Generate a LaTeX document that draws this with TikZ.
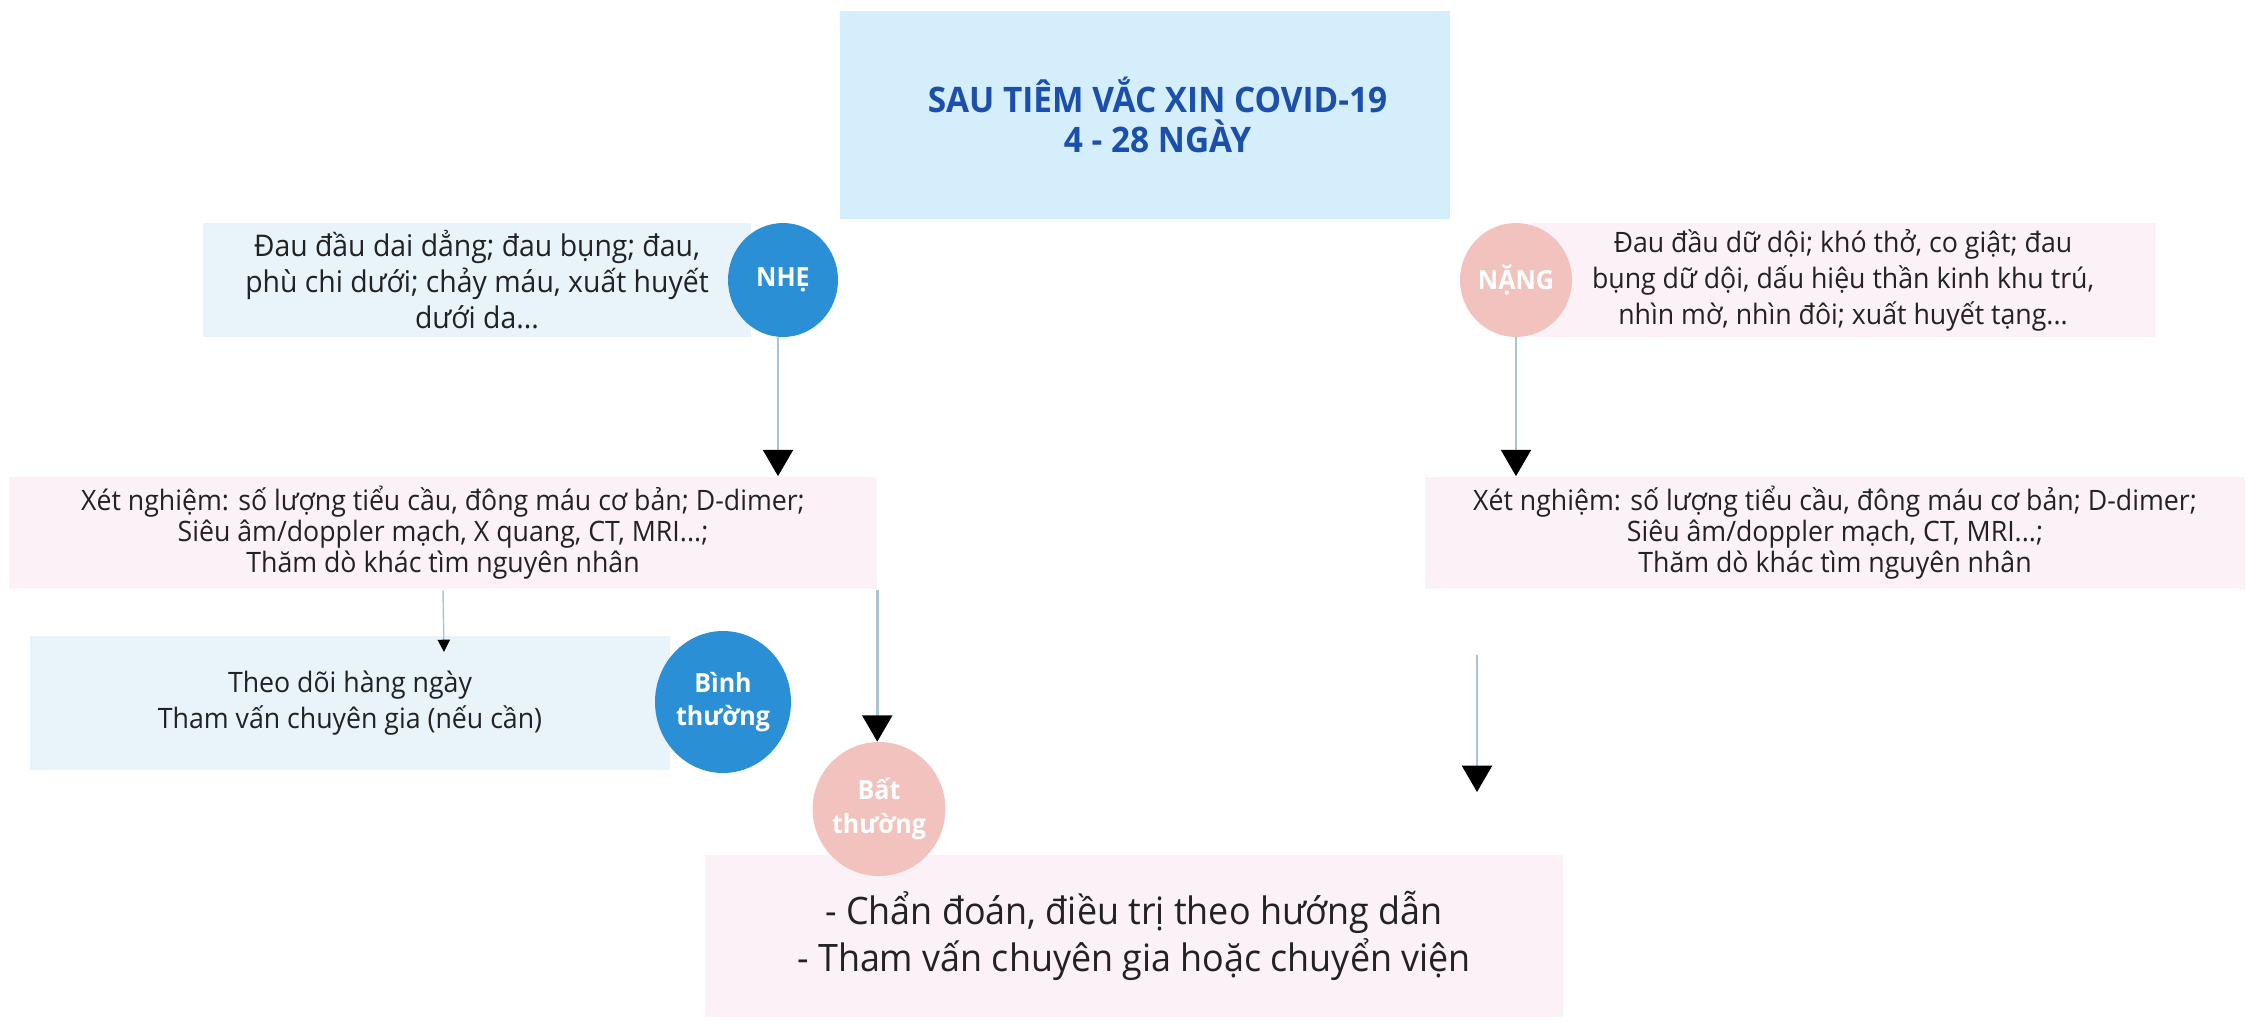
\documentclass[tikz,border=0pt]{standalone}
\usepackage{fontspec}
\setmainfont{Open Sans}[FakeStretch=0.95]
\usetikzlibrary{arrows.meta,shapes.geometric}
\definecolor{titlebg}{RGB}{212,238,252}
\definecolor{titlefg}{RGB}{27,79,170}
\definecolor{bluebg}{RGB}{232,243,250}
\definecolor{pinkbg}{RGB}{252,241,246}
\definecolor{cnhe}{RGB}{43,143,214}
\definecolor{cnang}{RGB}{241,194,190}
\definecolor{linegray}{RGB}{170,196,208}
\definecolor{textgray}{RGB}{34,34,34}
\tikzset{
    box/.style={rectangle, inner sep=0pt, align=center, text=textgray, font=\fontsize{16}{17.6}\selectfont},
    bluebox/.style={box, fill=bluebg},
    pinkbox/.style={box, fill=pinkbg},
    dot/.style={ellipse, inner sep=0pt, text=white, align=center, font=\bfseries\fontsize{15}{19}\selectfont},
    nhedot/.style={dot, fill=cnhe},
    nangdot/.style={dot, fill=cnang},
    flow/.style={-{Triangle[color=black,width=17pt,length=15pt]}, draw=linegray, line width=1.6pt},
    thinflow/.style={-{Triangle[color=black,width=7pt,length=7pt]}, draw=linegray, line width=0.8pt},
}
\begin{document}
\begin{tikzpicture}[x=0.02cm,y=-0.02cm]
\useasboundingbox (0,0) rectangle (2246,1022);
% top
\node[box, fill=titlebg, text=titlefg, minimum width=12.22cm, minimum height=4.18cm,
      font=\bfseries\fontsize{20}{23}\selectfont] (title) at (1145,115)
      {\hspace*{0.5cm}SAU TIÊM VẮC XIN COVID-19\\\hspace*{0.5cm}4 - 28 NGÀY};
% nhe branch
\node[bluebox, minimum width=10.98cm, minimum height=2.3cm, font=\fontsize{17}{20.5}\selectfont] (nhebox) at (477,280)
      {Đau đầu dai dẳng; đau bụng; đau,\\phù chi dưới; chảy máu, xuất huyết\\dưới da...};
\node[nhedot, minimum width=2.2cm, minimum height=2.28cm] (nhe) at (783,280) {NHẸ};
\node[pinkbox, minimum width=17.36cm, minimum height=2.26cm] (xetl) at (443,533)
      {Xét nghiệm: số lượng tiểu cầu, đông máu cơ bản; D-dimer;\\Siêu âm/doppler mạch, X quang, CT, MRI...;\\Thăm dò khác tìm nguyên nhân};
\node[bluebox, minimum width=12.8cm, minimum height=2.7cm, font=\fontsize{16}{20.5}\selectfont] (theo) at (350,703)
      {Theo dõi hàng ngày\\Tham vấn chuyên gia (nếu cần)};
\node[nhedot, minimum width=2.72cm, minimum height=2.84cm] (binh) at (723,702) {Bình\\thường};
% nang branch
\node[pinkbox, minimum width=12.52cm, minimum height=2.3cm, font=\fontsize{16}{20.5}\selectfont] (nangbox) at (1843,280)
      {Đau đầu dữ dội; khó thở, co giật; đau\\bụng dữ dội, dấu hiệu thần kinh khu trú,\\nhìn mờ, nhìn đôi; xuất huyết tạng...};
\node[nangdot, minimum width=2.24cm, minimum height=2.28cm] (nang) at (1516,280) {NẶNG};
\node[pinkbox, minimum width=16.42cm, minimum height=2.26cm] (xetr) at (1835,533)
      {Xét nghiệm: số lượng tiểu cầu, đông máu cơ bản; D-dimer;\\Siêu âm/doppler mạch, CT, MRI...;\\Thăm dò khác tìm nguyên nhân};
% bottom
\node[pinkbox, minimum width=17.16cm, minimum height=3.26cm, font=\fontsize{21.5}{27}\selectfont] (dieutri) at (1134,936)
      {- Chẩn đoán, điều trị theo hướng dẫn\\- Tham vấn chuyên gia hoặc chuyển viện};
\node[nangdot, minimum width=2.48cm, minimum height=2.68cm] (bat) at (879,809) {Bất\\thường};
\coordinate (theotop) at (444,652);
\coordinate (free1) at (1477,655);
\coordinate (free2) at (1477,792);
\draw[flow] ([xshift=-0.1cm]nhe.south) -- ([xshift=-0.1cm]nhe.south |- xetl.north);
\draw[thinflow] (xetl.south) -- (theotop);
\draw[flow] (xetl.south east) -- (xetl.south east |- bat.north);
\draw[flow] (nang.south) -- (nang.south |- xetr.north);
\draw[flow] (free1) -- (free2);
\end{tikzpicture}
\end{document}
